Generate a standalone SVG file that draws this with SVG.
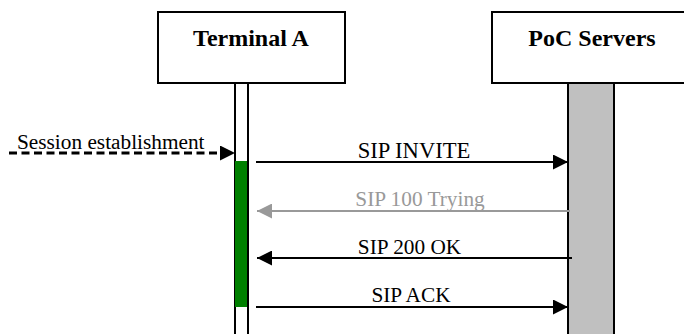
<svg xmlns="http://www.w3.org/2000/svg" width="684" height="334" viewBox="0 0 684 334">
<style>
.box{fill:#fff;stroke:#000;stroke-width:2}
.t{font-family:"Liberation Serif","Times New Roman",serif;font-size:21.3px;fill:#000}
.h{font-family:"Liberation Serif","Times New Roman",serif;font-size:24px;font-weight:bold;fill:#000}
.msg{stroke:#000;stroke-width:2.2;fill:none}
</style>
<defs>
<marker id="ah" viewBox="0 0 15 15" refX="15" refY="7.5" markerWidth="15" markerHeight="15" markerUnits="userSpaceOnUse" orient="auto"><path d="M0,0L15,7.5L0,15Z" fill="#000"/></marker>
<marker id="ag" viewBox="0 0 15 15" refX="15" refY="7.5" markerWidth="15" markerHeight="15" markerUnits="userSpaceOnUse" orient="auto"><path d="M0,0L15,7.5L0,15Z" fill="#999"/></marker>
</defs>
<rect width="684" height="334" fill="#fff"/>
<g id="terminal-a">
<rect class="box" x="158" y="12" width="187" height="71"/>
<text class="h" x="251" y="46" text-anchor="middle">Terminal A</text>
<rect x="235" y="83" width="13" height="260" fill="#fff" stroke="#000" stroke-width="2"/>
<rect x="235" y="161" width="12" height="146" fill="#008000"/>
</g>
<g id="poc-servers">
<rect class="box" x="492" y="12" width="200" height="71"/>
<text class="h" x="592" y="46" text-anchor="middle">PoC Servers</text>
<rect x="568" y="83" width="46" height="260" fill="#c0c0c0" stroke="#000" stroke-width="2"/>
</g>
<g id="connectors">
<line x1="9" y1="153" x2="235" y2="153" stroke="#000" stroke-width="3" stroke-dasharray="8,4.5" marker-end="url(#ah)"/>
<text class="t" x="17" y="148.5">Session establishment</text>
<line class="msg" x1="256" y1="162" x2="568" y2="162" marker-end="url(#ah)"/>
<text class="t" x="414" y="158" text-anchor="middle" style="font-size:22.6px">SIP INVITE</text>
<line x1="570" y1="211" x2="257" y2="211" stroke="#999" stroke-width="2.2" marker-end="url(#ag)"/>
<text class="t" x="420" y="206" text-anchor="middle" style="fill:#999">SIP 100 Trying</text>
<line class="msg" x1="572" y1="258" x2="257" y2="258" marker-end="url(#ah)"/>
<text class="t" x="409.5" y="254" text-anchor="middle">SIP 200 OK</text>
<line class="msg" x1="256" y1="307" x2="568" y2="307" marker-end="url(#ah)"/>
<text class="t" x="411" y="302" text-anchor="middle">SIP ACK</text>
</g>
</svg>
